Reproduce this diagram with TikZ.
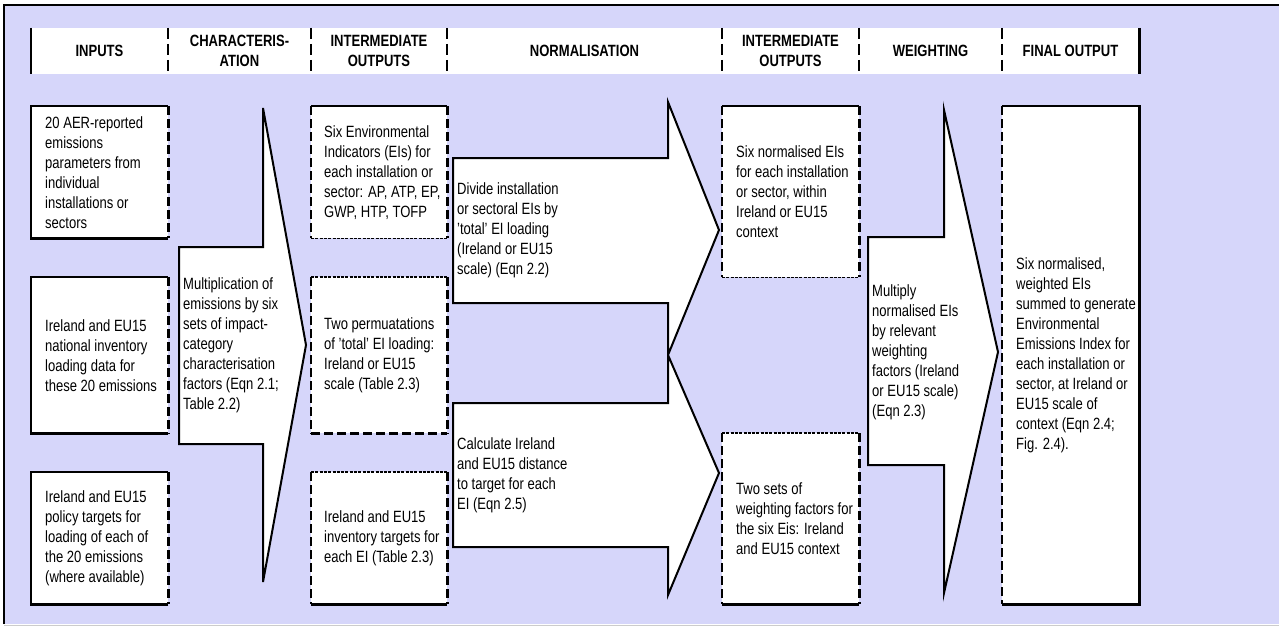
\documentclass[tikz,border=0pt]{standalone}
\usepackage{fontspec}
\setmainfont[FakeStretch=0.8]{Liberation Sans}
\usetikzlibrary{positioning}
\definecolor{panelfill}{RGB}{214,214,250}

\begin{document}
\begin{tikzpicture}[x=1pt,y=-1pt]
\tikzset{boxshape/.style = {fill=white, anchor=north west, inner sep=0pt}}
\tikzset{txt/.style = {inner sep=0pt, align=left, font=\fontsize{16.3}{20}\selectfont}}
\tikzset{hdr/.style = {inner sep=0pt, align=center, font=\bfseries\fontsize{16.3}{20}\selectfont}}
\tikzset{solidedge/.style = {line width=2.2pt}}
\tikzset{dashedge/.style = {line width=2.2pt, dash pattern=on 9pt off 4pt}}
\tikzset{divider/.style = {line width=2.2pt, dash pattern=on 11pt off 5pt}}
\tikzset{fineedge/.style = {line width=1.6pt, dash pattern=on 3pt off 1.3pt}}
\tikzset{arrowshape/.style = {draw, fill=white, line width=2pt, line join=miter}}
\useasboundingbox (0,0) rectangle (1279,626);
% panel
\fill[panelfill] (4,5) rectangle (1279,624);
\draw[line width=2pt] (4,624) -- (4,5) -- (1279,5);
\draw[black!20, line width=1pt] (4,625) -- (1279,625);
% header band
\node[boxshape, minimum width=1108pt, minimum height=46pt] (band) at (31,28) {};
\draw[solidedge] (band.north west) -- (band.south west);
\draw[solidedge] (band.north east) -- (band.south east);
\foreach \x in {168,311,447,722,859,1002}
  \draw[divider] (\x,28) -- (\x,74);
\node[hdr] (h1) at (99.5,51)  {INPUTS};
\node[hdr] (h2) at (239.5,51) {CHARACTERIS-\\ATION};
\node[hdr] (h3) at (379,51)   {INTERMEDIATE\\OUTPUTS};
\node[hdr] (h4) at (584.5,51) {NORMALISATION};
\node[hdr] (h5) at (790.5,51) {INTERMEDIATE\\OUTPUTS};
\node[hdr] (h6) at (930.5,51) {WEIGHTING};
\node[hdr] (h7) at (1070.5,51) {FINAL OUTPUT};
% boxes
\node[boxshape, minimum width=137pt, minimum height=132pt] (in1) at (31,106) {};
\node[boxshape, minimum width=137pt, minimum height=156pt] (in2) at (31,277) {};
\node[boxshape, minimum width=137pt, minimum height=132pt] (in3) at (31,472) {};
\node[boxshape, minimum width=136pt, minimum height=132pt] (io1) at (311,106) {};
\node[boxshape, minimum width=136pt, minimum height=156pt] (io2) at (311,277) {};
\node[boxshape, minimum width=136pt, minimum height=132pt] (io3) at (311,472) {};
\node[boxshape, minimum width=137pt, minimum height=171pt] (no1) at (722,106) {};
\node[boxshape, minimum width=137pt, minimum height=171pt] (no2) at (722,433) {};
\node[boxshape, minimum width=137pt, minimum height=498pt] (fin) at (1002,106) {};
% box edges
\foreach \b in {in1,in2,in3} {
  \draw[solidedge] (\b.south east) -- (\b.south west) -- (\b.north west) -- (\b.north east);
  \draw[dashedge] (\b.north east) -- (\b.south east);
}
\foreach \b in {io1,io2,io3,no1,no2,fin}
  \draw[dashedge] (\b.north west) -- (\b.south west);
\foreach \b in {io1,io2,io3,no1,no2}
  \draw[dashedge] (\b.north east) -- (\b.south east);
\draw[solidedge] (io1.north west) -- (io1.north east);
\draw[fineedge] (io1.south west) -- (io1.south east);
\draw[fineedge] (io2.north west) -- (io2.north east);
\draw[dashedge] (io2.south west) -- (io2.south east);
\draw[fineedge] (io3.north west) -- (io3.north east);
\draw[solidedge] (io3.south west) -- (io3.south east);
\draw[solidedge] (no1.north west) -- (no1.north east);
\draw[fineedge] (no1.south west) -- (no1.south east);
\draw[fineedge] (no2.north west) -- (no2.north east);
\draw[solidedge] (no2.south west) -- (no2.south east);
\draw[solidedge] (fin.north west) -- (fin.north east) -- (fin.south east) -- (fin.south west);
% block arrows
\draw[arrowshape] (179,247) -- (263,247) -- (263,108) -- (306,345) -- (263,582) -- (263,444) -- (179,444) -- cycle;
\draw[arrowshape] (453,158) -- (668,158) -- (668,102) -- (719,230) -- (668,355) -- (668,303) -- (453,303) -- cycle;
\draw[arrowshape] (453,403) -- (668,403) -- (668,355) -- (719,473) -- (668,595) -- (668,547) -- (453,547) -- cycle;
\draw[arrowshape] (868,237) -- (944,237) -- (944,110) -- (998,352) -- (944,593) -- (944,465) -- (868,465) -- cycle;
% texts
\node[txt, right=14pt of in1.west] (in1t) {20 AER-reported\\emissions\\parameters from\\individual\\installations or\\sectors};
\node[txt, right=14pt of in2.west] (in2t) {Ireland and EU15\\national inventory\\loading data for\\these 20 emissions};
\node[txt, right=14pt of in3.west] (in3t) {Ireland and EU15\\policy targets for\\loading of each of\\the 20 emissions\\(where available)};
\node[txt, anchor=west] (chart) at (183,345) {Multiplication of\\emissions by six\\sets of impact-\\category\\characterisation\\factors (Eqn 2.1;\\Table 2.2)};
\node[txt, right=13pt of io1.west] (io1t) {Six Environmental\\Indicators (EIs) for\\each installation or\\sector: AP, ATP, EP,\\GWP, HTP, TOFP};
\node[txt, right=13pt of io2.west] (io2t) {Two permuatations\\of 'total' EI loading:\\Ireland or EU15\\scale (Table 2.3)};
\node[txt, right=13pt of io3.west] (io3t) {Ireland and EU15\\inventory targets for\\each EI (Table 2.3)};
\node[txt, anchor=west] (divt) at (457,230.5) {Divide installation\\or sectoral EIs by\\'total' EI loading\\(Ireland or EU15\\scale) (Eqn 2.2)};
\node[txt, anchor=west] (calct) at (457,475) {Calculate Ireland\\and EU15 distance\\to target for each\\EI (Eqn 2.5)};
\node[txt, right=14pt of no1.west] (no1t) {Six normalised EIs\\for each installation\\or sector, within\\Ireland or EU15\\context};
\node[txt, right=14pt of no2.west] (no2t) {Two sets of\\weighting factors for\\the six Eis: Ireland\\and EU15 context};
\node[txt, anchor=west] (wgtt) at (872,352) {Multiply\\normalised EIs\\by relevant\\weighting\\factors (Ireland\\or EU15 scale)\\(Eqn 2.3)};
\node[txt, right=14pt of fin.west] (fint) {Six normalised,\\weighted EIs\\summed to generate\\Environmental\\Emissions Index for\\each installation or\\sector, at Ireland or\\EU15 scale of\\context (Eqn 2.4;\\Fig. 2.4).};
\end{tikzpicture}
\end{document}
